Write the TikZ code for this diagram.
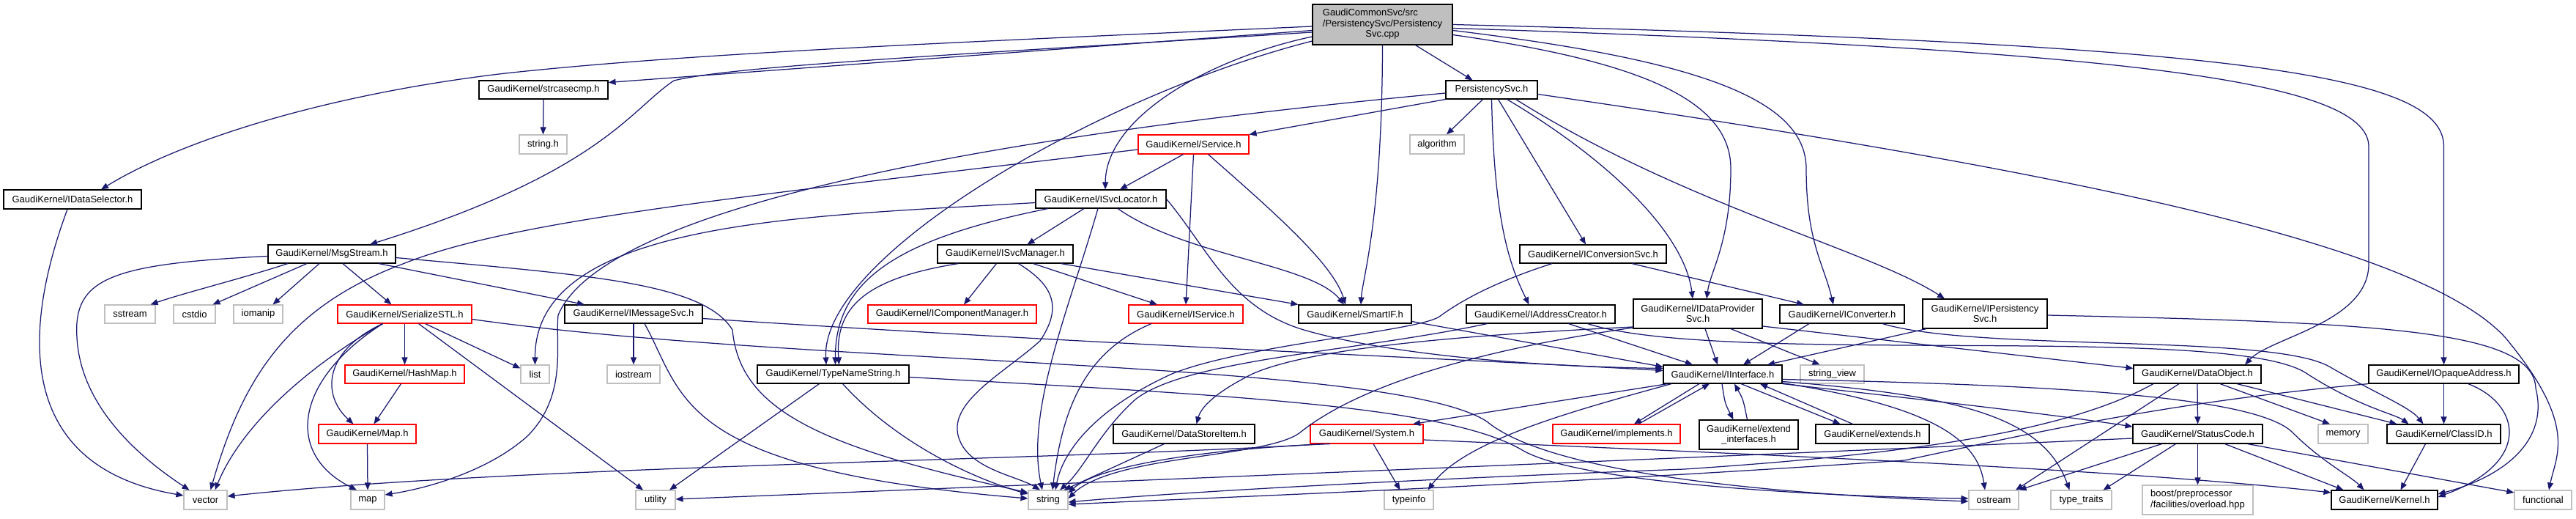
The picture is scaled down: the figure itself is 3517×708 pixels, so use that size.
\documentclass[tikz,border=0pt]{standalone}
\usepackage{fontspec}
\setmainfont{Liberation Sans}
\usetikzlibrary{arrows.meta}
\definecolor{edgec}{RGB}{25,25,112}
\definecolor{greyb}{RGB}{191,191,191}
\newcommand\dfont{\fontsize{13}{14.5}\selectfont}
\tikzset{
  nbox/.style={draw=black, fill=white, line width=1.1pt, inner sep=0pt, minimum height=25pt, font=\dfont, align=center},
  rbox/.style={nbox, draw=red},
  gbox/.style={nbox, draw=greyb},
  conn/.style={draw=edgec, line width=1.25pt, -{Triangle[length=10pt,width=8pt]}},
}
\begin{document}
\begin{tikzpicture}[x=1pt,y=1pt]
\useasboundingbox (0,0) rectangle (3517,-708);
% nodes
\node[nbox, minimum width=191pt, minimum height=55pt, fill=greyb] (root) at (1887.5,-33.5) {\begin{tabular}{@{}l@{}}GaudiCommonSvc/src\\/PersistencySvc/Persistency\\\multicolumn{1}{@{}c@{}}{Svc.cpp}\end{tabular}};
\node[nbox, minimum width=176pt] (strcasecmp) at (742,-122.5) {GaudiKernel/strcasecmp.h};
\node[nbox, minimum width=125pt] (psvch) at (2036.5,-122.5) {PersistencySvc.h};
\node[gbox, minimum width=65pt, minimum height=26pt] (stringh) at (741.5,-197) {string.h};
\node[nbox, minimum width=188pt, minimum height=26pt] (idatasel) at (99,-272) {GaudiKernel/IDataSelector.h};
\node[rbox, minimum width=151pt, minimum height=26pt] (service) at (1629.5,-197) {GaudiKernel/Service.h};
\node[gbox, minimum width=74pt, minimum height=26pt] (algorithm) at (1962,-197) {algorithm};
\node[nbox, minimum width=178pt] (isvcloc) at (1503,-271.5) {GaudiKernel/ISvcLocator.h};
\node[nbox, minimum width=174pt] (msgstream) at (453,-346.5) {GaudiKernel/MsgStream.h};
\node[nbox, minimum width=185pt] (isvcmgr) at (1372.5,-346.5) {GaudiKernel/ISvcManager.h};
\node[nbox, minimum width=200pt] (iconvsvc) at (2175,-346.5) {GaudiKernel/IConversionSvc.h};
\node[gbox, minimum width=69pt] (sstream) at (177.5,-428.5) {sstream};
\node[gbox, minimum width=57pt] (cstdio) at (265.5,-428.5) {cstdio};
\node[gbox, minimum width=67pt] (iomanip) at (352.5,-428.5) {iomanip};
\node[rbox, minimum width=183pt] (serial) at (552.5,-428.5) {GaudiKernel/SerializeSTL.h};
\node[nbox, minimum width=188pt] (imsgsvc) at (865,-428.5) {GaudiKernel/IMessageSvc.h};
\node[rbox, minimum width=230pt] (icompmgr) at (1300,-428.5) {GaudiKernel/IComponentManager.h};
\node[rbox, minimum width=156pt] (iservice) at (1619,-428.5) {GaudiKernel/IService.h};
\node[nbox, minimum width=154pt] (smartif) at (1850,-428.5) {GaudiKernel/SmartIF.h};
\node[nbox, minimum width=203pt] (iaddrcr) at (2103.5,-428.5) {GaudiKernel/IAddressCreator.h};
\node[nbox, minimum width=176pt, minimum height=40pt] (idps) at (2318,-428) {GaudiKernel/IDataProvider\\Svc.h};
\node[nbox, minimum width=170pt] (iconv) at (2515,-428.5) {GaudiKernel/IConverter.h};
\node[nbox, minimum width=170pt, minimum height=40pt] (ipers) at (2710,-428) {GaudiKernel/IPersistency\\Svc.h};
\node[rbox, minimum width=163pt] (hashmap) at (552.5,-510.5) {GaudiKernel/HashMap.h};
\node[gbox, minimum width=39pt] (list) at (730.5,-510.5) {list};
\node[gbox, minimum width=72pt] (iostream) at (865,-510.5) {iostream};
\node[nbox, minimum width=207pt] (typename) at (1137.5,-510.5) {GaudiKernel/TypeNameString.h};
\node[nbox, minimum width=162pt] (iinterface) at (2352,-510.5) {GaudiKernel/IInterface.h};
\node[gbox, minimum width=87pt] (stringview) at (2501.5,-510.5) {string\_view};
\node[nbox, minimum width=174pt] (dataobj) at (3000,-510.5) {GaudiKernel/DataObject.h};
\node[nbox, minimum width=205pt] (iopaque) at (3336.5,-510.5) {GaudiKernel/IOpaqueAddress.h};
\node[rbox, minimum width=133pt, minimum height=26pt] (maph) at (501.5,-592) {GaudiKernel/Map.h};
\node[nbox, minimum width=193pt, minimum height=26pt] (datastore) at (1616.5,-592) {GaudiKernel/DataStoreItem.h};
\node[rbox, minimum width=154pt, minimum height=26pt] (system) at (1866,-592) {GaudiKernel/System.h};
\node[rbox, minimum width=174pt, minimum height=26pt] (implements) at (2207,-592) {GaudiKernel/implements.h};
\node[nbox, minimum width=135pt, minimum height=40pt] (extendif) at (2387.5,-593) {GaudiKernel/extend\\\_interfaces.h};
\node[nbox, minimum width=155pt, minimum height=26pt] (extends) at (2556.5,-592) {GaudiKernel/extends.h};
\node[nbox, minimum width=177pt, minimum height=26pt] (statuscode) at (3000.5,-592) {GaudiKernel/StatusCode.h};
\node[gbox, minimum width=68pt, minimum height=26pt] (memory) at (3199,-592) {memory};
\node[nbox, minimum width=155pt, minimum height=26pt] (classid) at (3336.5,-592) {GaudiKernel/ClassID.h};
\node[gbox, minimum width=59pt, minimum height=26pt] (vector) at (280.5,-682) {vector};
\node[gbox, minimum width=46pt, minimum height=26pt] (map) at (502,-682) {map};
\node[gbox, minimum width=54pt, minimum height=26pt] (utility) at (895,-682) {utility};
\node[gbox, minimum width=54pt, minimum height=26pt] (string) at (1431,-682) {string};
\node[gbox, minimum width=67pt, minimum height=26pt] (typeinfo) at (1923.5,-682) {typeinfo};
\node[gbox, minimum width=68pt, minimum height=26pt] (ostream) at (2722,-682) {ostream};
\node[gbox, minimum width=83pt, minimum height=26pt] (typetraits) at (2841.5,-682) {type\_traits};
\node[gbox, minimum width=151pt, minimum height=40pt] (boost) at (3000.5,-682) {\begin{tabular}{@{}l@{}}boost/preprocessor\\/facilities/overload.hpp\end{tabular}};
\node[nbox, minimum width=145pt, minimum height=26pt] (kernel) at (3255.5,-682) {GaudiKernel/Kernel.h};
\node[gbox, minimum width=78pt, minimum height=26pt] (functional) at (3472,-682) {functional};
% root edges
\draw[conn] ([yshift=-2.5pt]root.west) .. controls (1300,-58) and (950,-72) .. (690,-100) .. controls (450,-128) and (250,-190) .. ([xshift=39pt]idatasel.north);
\draw[conn] ([yshift=-8pt]root.west) -- ([yshift=10pt]strcasecmp.east);
\draw[conn] ([yshift=-10.5pt]root.west) .. controls (1300,-75) and (1000,-90) .. (920,-110) .. controls (860,-150) and (820,-235) .. ([xshift=52pt]msgstream.north);
\draw[conn] ([yshift=-16.5pt]root.west) .. controls (1650,-80) and (1510,-160) .. ([xshift=6pt]isvcloc.north);
\draw[conn] ([yshift=-22.5pt]root.west) .. controls (1500,-130) and (1120,-350) .. ([xshift=-9.5pt]typename.north);
\draw[conn] (root.south) .. controls (1887,-300) and (1860,-380) .. ([xshift=8pt]smartif.north);
\draw[conn] ([xshift=45pt]root.south) -- ([xshift=-26pt]psvch.north);
\draw[conn] (root.east) .. controls (3050,-60) and (3336.5,-100) .. (3336.5,-200) -- (iopaque.north);
\draw[conn] ([yshift=-5pt]root.east) .. controls (2900,-68) and (3234,-110) .. (3234,-200) -- (3234,-360) .. controls (3234,-440) and (3100,-460) .. ([xshift=65pt]dataobj.north);
\draw[conn] ([yshift=-8pt]root.east) .. controls (2300,-80) and (2466,-130) .. (2466,-230) .. controls (2466,-330) and (2490,-360) .. ([xshift=-12pt]iconv.north);
\draw[conn] ([yshift=-14pt]root.east) .. controls (2250,-85) and (2363,-140) .. (2363,-230) .. controls (2363,-330) and (2335,-370) .. ([xshift=12pt]idps.north);
% PersistencySvc.h edges
\draw[conn] (psvch.south west) -- (service.north east);
\draw[conn] ([yshift=-4.5pt]psvch.west) .. controls (1300,-190) and (820,-290) .. (762,-430) .. controls (758,-470) and (775,-540) .. (720,-595) .. controls (670,-640) and (590,-665) .. ([yshift=7pt]map.east);
\draw[conn] ([xshift=-12pt]psvch.south) -- ([xshift=13pt]algorithm.north);
\draw[conn] (psvch.south) .. controls (2040,-300) and (2060,-360) .. ([xshift=-16pt]iaddrcr.north);
\draw[conn] ([xshift=9pt]psvch.south) -- ([xshift=-10pt]iconvsvc.north);
\draw[conn] ([xshift=21pt]psvch.south) .. controls (2200,-220) and (2300,-320) .. ([xshift=-7pt]idps.north);
\draw[conn] ([xshift=33pt]psvch.south) .. controls (2300,-280) and (2550,-340) .. ([xshift=-55pt]ipers.north);
\draw[conn] ([yshift=-6pt]psvch.east) .. controls (2800,-230) and (3300,-330) .. (3420,-460) .. controls (3520,-580) and (3490,-620) .. ([xshift=8pt]functional.north);
\draw[conn] (strcasecmp.south) -- (stringh.north);
% Service.h
\draw[conn] ([yshift=-7pt]service.west) .. controls (1000,-270) and (700,-300) .. (550,-360) .. controls (390,-420) and (330,-520) .. ([xshift=7pt]vector.north);
\draw[conn] ([xshift=-14pt]service.south) -- ([xshift=26pt]isvcloc.north);
\draw[conn] (service.south) -- (iservice.north);
\draw[conn] ([xshift=20pt]service.south) .. controls (1740,-290) and (1820,-360) .. ([xshift=-13pt]smartif.north);
% ISvcLocator
\draw[conn] ([yshift=-5pt]isvcloc.west) .. controls (1100,-295) and (730,-300) .. (list.north);
\draw[conn] ([xshift=-72pt]isvcloc.south) .. controls (1230,-325) and (1140,-380) .. ([xshift=3pt]typename.north);
\draw[conn] ([xshift=-23pt]isvcloc.south) -- ([xshift=30pt]isvcmgr.north);
\draw[conn] ([xshift=-4pt]isvcloc.south) .. controls (1460,-420) and (1400,-560) .. ([xshift=-8pt]string.north);
\draw[conn] ([xshift=23pt]isvcloc.south) .. controls (1620,-350) and (1790,-360) .. ([xshift=-15pt]smartif.north);
\draw[conn] (isvcloc.east) .. controls (1650,-340) and (1680,-420) .. (1780,-450) .. controls (1900,-485) and (2100,-500) .. ([yshift=8pt]iinterface.west);
% MsgStream
\draw[conn] ([yshift=-3pt]msgstream.west) .. controls (150,-360) and (100,-380) .. (105,-460) .. controls (110,-560) and (200,-630) .. ([xshift=-22pt]vector.north);
\draw[conn] ([xshift=-60pt]msgstream.south) .. controls (330,-380) and (250,-400) .. ([xshift=28pt]sstream.north);
\draw[conn] ([xshift=-34pt]msgstream.south) -- ([xshift=25pt]cstdio.north);
\draw[conn] ([xshift=-17pt]msgstream.south) -- ([xshift=20pt]iomanip.north);
\draw[conn] ([xshift=15pt]msgstream.south) -- ([xshift=-18pt]serial.north);
\draw[conn] ([xshift=64pt]msgstream.south) -- ([xshift=-67pt]imsgsvc.north);
\draw[conn] ([yshift=-5pt]msgstream.east) .. controls (800,-375) and (960,-385) .. (1000,-450) .. controls (1010,-560) and (1120,-610) .. ([yshift=10pt]string.west);
\draw[conn] ([xshift=-7pt]idatasel.south) .. controls (20,-480) and (40,-640) .. ([yshift=6pt]vector.west);
% SerializeSTL
\draw[conn] ([xshift=-30pt]serial.south) .. controls (420,-500) and (330,-580) .. ([xshift=13pt]vector.north);
\draw[conn] ([xshift=-30pt]serial.south) .. controls (400,-520) and (390,-620) .. ([xshift=-15pt]map.north);
\draw[conn] ([xshift=-30pt]serial.south) .. controls (440,-480) and (440,-540) .. ([xshift=-19pt]maph.north);
\draw[conn] (serial.south) -- (hashmap.north);
\draw[conn] ([xshift=28pt]serial.south) -- ([yshift=8pt]list.west);
\draw[conn] ([xshift=19pt]serial.south) -- ([xshift=-17pt]utility.north);
\draw[conn] ([yshift=-7pt]serial.east) .. controls (1100,-500) and (1900,-490) .. (2030,-575) .. controls (2120,-650) and (2450,-675) .. ([yshift=-2pt]ostream.west);
% IMessageSvc
\draw[conn] (imsgsvc.south) -- (iostream.north);
\draw[conn] ([xshift=15pt]imsgsvc.south) .. controls (935,-540) and (920,-640) .. ([yshift=2pt]string.west);
\draw[conn] ([yshift=-6pt]imsgsvc.east) .. controls (1500,-470) and (2000,-490) .. ([yshift=5pt]iinterface.west);
\draw[conn] ([xshift=-5pt]hashmap.south) -- ([xshift=9pt]maph.north);
\draw[conn] (maph.south) -- (map.north);
% ISvcManager
\draw[conn] ([xshift=-64pt]isvcmgr.south) .. controls (1180,-380) and (1140,-420) .. ([xshift=8pt]typename.north);
\draw[conn] ([xshift=-12pt]isvcmgr.south) -- ([xshift=16pt]icompmgr.north);
\draw[conn] ([xshift=18pt]isvcmgr.south) .. controls (1440,-390) and (1450,-420) .. (1420,-465) .. controls (1370,-510) and (1290,-550) .. (1310,-600) .. controls (1325,-640) and (1390,-650) .. ([xshift=-11pt]string.north);
\draw[conn] ([xshift=38pt]isvcmgr.south) -- ([xshift=-39pt]iservice.north);
\draw[conn] ([xshift=76pt]isvcmgr.south) -- (smartif.north west);
% IConversionSvc
\draw[conn] ([xshift=-56pt]iconvsvc.south) .. controls (2040,-385) and (1995,-410) .. (1965,-432) .. controls (1935,-452) and (1700,-470) .. (1600,-510) .. controls (1490,-560) and (1450,-620) .. ([xshift=10pt]string.north);
\draw[conn] ([xshift=53pt]iconvsvc.south) -- ([xshift=-52pt]iconv.north);
\draw[conn] ([yshift=-10pt]smartif.east) -- ([yshift=10pt]iinterface.west);
\draw[conn] ([xshift=-47pt]iservice.south) .. controls (1480,-480) and (1450,-560) .. ([xshift=6pt]string.north);
% IAddressCreator
\draw[conn] ([xshift=-73pt]iaddrcr.south) .. controls (1850,-480) and (1620,-490) .. (1550,-545) .. controls (1500,-590) and (1480,-640) .. ([xshift=16pt]string.north);
\draw[conn] ([xshift=38pt]iaddrcr.south) -- ([xshift=-41pt]iinterface.north);
\draw[conn] ([xshift=64pt]iaddrcr.south) .. controls (2350,-500) and (3050,-440) .. (3150,-510) .. controls (3220,-555) and (3270,-565) .. ([xshift=-48pt]classid.north);
% IDataProviderSvc
\draw[conn] ([yshift=-18pt]idps.west) .. controls (2050,-455) and (1800,-470) .. (1710,-510) .. controls (1660,-535) and (1640,-555) .. ([xshift=17pt]datastore.north);
\draw[conn] ([yshift=-19pt]idps.west) .. controls (2000,-480) and (1850,-530) .. (1775,-590) .. controls (1730,-625) and (1520,-620) .. ([yshift=2pt]string.east);
\draw[conn] ([xshift=10pt]idps.south) -- ([xshift=-7pt]iinterface.north);
\draw[conn] ([xshift=45pt]idps.south) -- ([xshift=-17pt]stringview.north);
\draw[conn] ([yshift=-17pt]idps.east) -- ([yshift=8pt]dataobj.west);
% IConverter
\draw[conn] ([xshift=-45pt]iconv.south) -- ([xshift=28pt]iinterface.north);
\draw[conn] ([xshift=55pt]iconv.south) .. controls (2700,-480) and (3100,-455) .. (3180,-500) .. controls (3240,-535) and (3290,-555) .. ([xshift=-28pt]classid.north);
% IPersistencySvc
\draw[conn] ([xshift=-80pt]ipers.south) -- ([xshift=61pt]iinterface.north);
\draw[conn] ([yshift=-2pt]ipers.east) .. controls (3250,-440) and (3460,-450) .. (3462,-530) .. controls (3480,-600) and (3420,-650) .. ([yshift=8pt]kernel.east);
% DataObject
\draw[conn] ([xshift=-60pt]dataobj.south) .. controls (2820,-590) and (2600,-620) .. (2300,-640) .. controls (1900,-655) and (1600,-672) .. ([yshift=-3pt]string.east);
\draw[conn] ([xshift=-25pt]dataobj.south) -- ([xshift=30pt]ostream.north);
\draw[conn] (dataobj.south) -- (statuscode.north);
\draw[conn] ([xshift=31pt]dataobj.south) -- ([xshift=-18pt]memory.north);
\draw[conn] ([xshift=54pt]dataobj.south) -- ([xshift=-64pt]classid.north);
% IOpaqueAddress
\draw[conn] (iopaque.south west) .. controls (2950,-550) and (2780,-590) .. (2600,-628) .. controls (2100,-662) and (1700,-677) .. ([yshift=-6pt]string.east);
\draw[conn] (iopaque.south) -- (classid.north);
\draw[conn] ([xshift=33pt]iopaque.south) .. controls (3440,-550) and (3460,-630) .. ([yshift=4pt]kernel.east);
\draw[conn] ([xshift=-25pt]classid.south) -- ([xshift=22pt]kernel.north);
% StatusCode
\draw[conn] ([yshift=-6pt]statuscode.west) .. controls (2300,-625) and (1400,-662) .. ([yshift=1pt]utility.east);
\draw[conn] ([xshift=-49pt]statuscode.south) -- (ostream.north east);
\draw[conn] ([xshift=-30pt]statuscode.south) -- ([xshift=30pt]typetraits.north);
\draw[conn] (statuscode.south) -- (boost.north);
\draw[conn] ([xshift=37pt]statuscode.south) -- ([xshift=-56pt]kernel.north);
\draw[conn] ([xshift=68pt]statuscode.south) -- ([yshift=10pt]functional.west);
% IInterface
\draw[conn] ([xshift=-75pt]iinterface.south) -- ([xshift=63pt]system.north);
\draw[conn] ([xshift=-70pt]iinterface.south) .. controls (2150,-560) and (2000,-600) .. ([xshift=26pt]typeinfo.north);
\draw[conn] ([xshift=-32pt]iinterface.south) -- ([xshift=24pt]implements.north);
\draw[conn] ([xshift=30pt]implements.north) -- ([xshift=-18pt]iinterface.south);
\draw[conn] ([xshift=-1pt]iinterface.south) .. controls (2355,-550) .. ([xshift=-21pt]extendif.north);
\draw[conn] ([xshift=-2pt]extendif.north) .. controls (2380,-545) .. ([xshift=16pt]iinterface.south);
\draw[conn] ([xshift=25pt]iinterface.south) -- ([xshift=-44pt]extends.north);
\draw[conn] ([xshift=-27pt]extends.north) -- ([xshift=51pt]iinterface.south);
\draw[conn] (iinterface.south east) .. controls (2650,-548) and (2800,-565) .. ([yshift=10pt]statuscode.west);
\draw[conn] ([yshift=-7pt]iinterface.east) .. controls (2800,-525) and (3080,-540) .. (3130,-590) .. controls (3170,-630) and (3210,-650) .. ([xshift=-28pt]kernel.north);
\draw[conn] ([yshift=-10pt]iinterface.east) .. controls (2680,-540) and (2790,-570) .. ([xshift=-16pt]typetraits.north);
\draw[conn] ([yshift=-12pt]iinterface.east) .. controls (2640,-555) and (2700,-600) .. ([xshift=-12pt]ostream.north);
% System.h
\draw[conn] ([xshift=-60pt]system.south) .. controls (1450,-628) and (700,-635) .. ([yshift=5pt]vector.east);
\draw[conn] ([xshift=-50pt]system.south) .. controls (1650,-612) and (1500,-635) .. ([yshift=-4pt]string.north east);
\draw[conn] ([xshift=9pt]system.south) -- ([xshift=-12pt]typeinfo.north);
\draw[conn] ([yshift=-8pt]system.east) .. controls (2400,-620) and (2900,-640) .. ([yshift=10pt]kernel.west);
% TypeNameString
\draw[conn] ([xshift=-19pt]typename.south) -- ([xshift=19pt]utility.north);
\draw[conn] ([xshift=13pt]typename.south) .. controls (1220,-600) and (1320,-650) .. ([yshift=8pt]string.west);
\draw[conn] ([yshift=-4pt]typename.east) .. controls (1700,-540) and (1980,-555) .. (2080,-615) .. controls (2160,-660) and (2500,-678) .. ([yshift=2pt]ostream.west);
\draw[conn] ([xshift=-27pt]datastore.south) -- ([xshift=-6pt]string.north east);
\end{tikzpicture}
\end{document}
